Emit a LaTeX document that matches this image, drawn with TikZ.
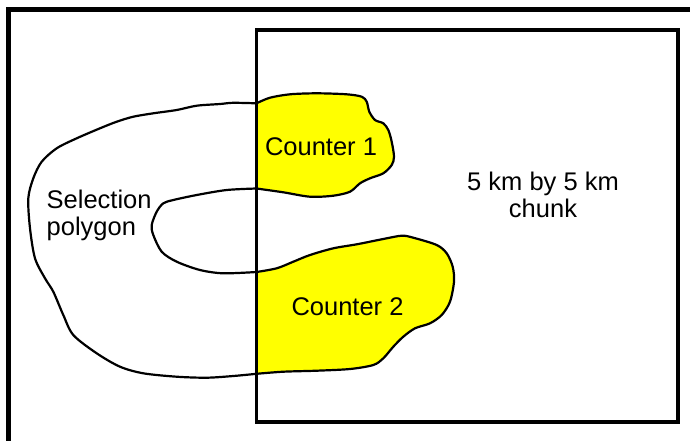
\documentclass[tikz,border=0pt]{standalone}
\usepackage{fontspec}
\setmainfont{Liberation Sans}
\begin{document}
\begin{tikzpicture}[x=1pt,y=-1pt,
  lbl/.style={inner sep=0pt, font=\fontsize{25.5}{27.5}\selectfont, text=black},
  outline/.style={draw=black, line width=2.2pt, line join=round},
  frame/.style={draw=black, line width=4.5pt},
  chunkbox/.style={draw=black, line width=3.2pt}]
\definecolor{lobe}{RGB}{255,255,0}
\useasboundingbox (0,0) rectangle (690,440);
\clip (0,0) rectangle (690,440);
\fill[white] (0,0) rectangle (690,440);
\def\blobpath{
  plot[smooth, tension=0.5] coordinates {(256.5,103.3) (233,102.8) (220,104) (196.7,105.7) (176.7,110) (153.3,113.3) (133.3,116.7) (116.7,121.7) (100,128.3) (76.7,138.3) (56.7,148.3) (41.7,161.7) (33.3,178.3) (28.3,198.3) (30,228.3) (35,258.3) (45,278.3) (53.3,291.7) (63.3,315) (73.3,335) (96.7,353.3) (120,366.7) (143.3,373.3) (176.7,376.7) (206.7,377.7) (233.3,376) (256.5,373.8)}
  -- plot[smooth, tension=0.5] coordinates {(256.5,373.8) (283.3,371.7) (316.7,370.7) (350,369) (373.3,365) (383.3,358.3) (393.3,346.7) (403.3,336.7) (415,328.3) (430,323.3) (441.7,315) (450,301.7) (454,281.7) (452.7,266.7) (446.7,253.3) (436.7,245) (413.3,237.7) (401.7,235.7) (383.3,239) (356.7,244.3) (333.3,248.3) (310,255) (293.3,261.7) (276.7,268.3) (256.5,272)}
  -- plot[smooth, tension=0.5] coordinates {(256.5,272) (223.3,273.3) (200,270) (176.7,261.7) (161.7,251.7) (153.3,235) (151.7,225) (156.7,211.7) (163.3,203.3) (173.3,200) (196.7,195) (226.7,190) (256.5,188.5)}
  -- plot[smooth, tension=0.5] coordinates {(256.5,188.5) (283.3,192.3) (310,196.7) (333.3,195.7) (350,191.7) (360,183.3) (370,178.3) (383.3,173.3) (391.7,165) (394,156.7) (391.7,141.7) (388.3,130) (383.3,123.3) (375,120) (369.3,111.7) (366.7,101.7) (361.7,96.7) (346.7,94.3) (316.7,93.3) (290,94.3) (270,97.7) (256.5,103.3)}
  -- cycle}
% yellow lobes inside the chunk
\begin{scope}
  \clip (256.5,0) rectangle (690,440);
  \fill[lobe] \blobpath;
\end{scope}
% selection polygon outline
\draw[outline] \blobpath;
% chunk square
\draw[chunkbox] (256.5,30) rectangle (678,422);
% outer frame
\draw[frame] (8.5,460) -- (8.5,9.5) -- (710,9.5);
% labels
\node[lbl, anchor=base] (c1) at (321,155) {Counter 1};
\node[lbl, anchor=base] (c2) at (347.5,315.7) {Counter 2};
\node[lbl, anchor=base, align=center] (chunk) at (543,217.5) {5 km by 5 km\\chunk};
\node[lbl, anchor=base west, align=left] (sel) at (46.5,235.5) {Selection\\polygon};
\end{tikzpicture}
\end{document}
